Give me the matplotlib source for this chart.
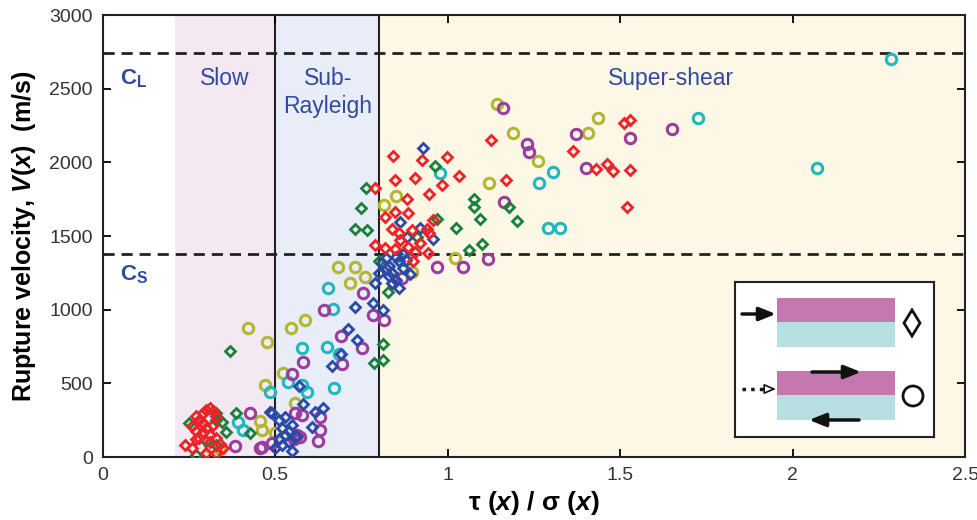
import numpy as np
import matplotlib
matplotlib.use("Agg")
import matplotlib.pyplot as plt
from matplotlib.patches import Rectangle, Polygon, Ellipse

plt.rcParams["font.family"] = ["Liberation Sans", "DejaVu Sans"]
plt.rcParams["mathtext.fontset"] = "custom"
plt.rcParams["mathtext.it"] = "Liberation Sans:italic:bold"
plt.rcParams["mathtext.rm"] = "Liberation Sans:bold"

# shear-to-normal stress ratio vs rupture velocity, per series
red_x = [1.126, 1.168, 1.362, 1.511, 1.528, 1.430, 1.463, 1.480, 1.528, 1.519,
         0.842, 0.925, 0.997, 0.847, 0.905, 0.985, 1.033, 0.947, 0.881,
         0.789, 0.818, 0.847, 0.886, 0.896, 0.838, 0.862, 0.939, 0.958, 0.947,
         0.789, 0.818, 0.847, 0.886, 0.905, 0.944, 0.860, 0.920, 0.900,
         0.24, 0.26, 0.27, 0.28, 0.29, 0.30, 0.31, 0.32, 0.33, 0.28, 0.30, 0.31,
         0.27, 0.29, 0.32, 0.31, 0.33, 0.34, 0.35, 0.33, 0.30, 0.29, 0.26, 0.27]
red_v = [2150, 1880, 2080, 2270, 2290, 1955, 1990, 1945, 1950, 1700,
         2045, 2015, 2035, 1880, 1895, 1850, 1905, 1785, 1755,
         1825, 1630, 1665, 1655, 1540, 1550, 1475, 1550, 1608, 1520,
         1440, 1422, 1410, 1427, 1393, 1386, 1520, 1450, 1330,
         80, 60, 180, 250, 300, 320, 330, 310, 280, 130, 200, 150,
         280, 230, 220, 100, 130, 90, 60, 30, 30, 170, 210, 120]

green_x = [1.077, 1.077, 1.094, 1.024, 1.100, 1.062, 1.179, 1.200, 0.963, 0.968, 0.910,
           0.763, 0.749, 0.731, 0.765, 0.827, 0.813, 0.813, 0.787, 0.800, 0.840,
           0.369, 0.272, 0.328, 0.345, 0.359, 0.386, 0.427, 0.330, 0.300, 0.330, 0.250]
green_v = [1750, 1700, 1615, 1556, 1446, 1405, 1695, 1602, 1975, 1613, 1495,
           1824, 1692, 1545, 1541, 1122, 765, 658, 640, 1330, 1250,
           722, 14, 301, 240, 172, 296, 165, 250, 110, 80, 230]

blue_x = [0.928, 0.862, 0.920, 0.958, 0.881,
          0.82, 0.83, 0.84, 0.85, 0.86, 0.87, 0.83, 0.85, 0.88, 0.84, 0.86, 0.82,
          0.80, 0.81, 0.89, 0.87,
          0.789, 0.784, 0.731, 0.813, 0.712, 0.736, 0.664, 0.690,
          0.490, 0.581, 0.640, 0.615, 0.606, 0.485, 0.570,
          0.51, 0.52, 0.53, 0.54, 0.52, 0.55, 0.53, 0.51, 0.54, 0.50, 0.56, 0.55]
blue_v = [2095, 1597, 1552, 1477, 1495,
          1350, 1300, 1250, 1200, 1330, 1280, 1230, 1360, 1340, 1180, 1150, 1280,
          1250, 1320, 1240, 1380,
          1179, 1043, 1016, 998, 867, 794, 618, 700,
          301, 360, 335, 308, 206, 308, 482,
          250, 200, 150, 100, 80, 220, 270, 120, 180, 60, 140, 40]

cyan_x = [2.284, 2.070, 1.726, 1.304, 1.266, 1.290, 1.326, 0.978, 0.876,
          0.654, 0.668, 0.577, 0.649, 0.685, 0.671, 0.538, 0.577, 0.591, 0.485,
          0.393, 0.408]
cyan_v = [2700, 1960, 2300, 1937, 1862, 1556, 1556, 1930, 1340,
          1149, 1002, 742, 749, 697, 470, 511, 489, 443, 443,
          240, 183]

olive_x = [1.142, 1.190, 1.263, 1.120, 1.408, 1.437, 0.815, 0.850, 1.021, 0.898,
           0.683, 0.731, 0.760, 0.717, 0.586, 0.545, 0.477, 0.422, 0.523, 0.472,
           0.557, 0.499, 0.461, 0.311, 0.340, 0.456]
olive_v = [2396, 2201, 2009, 1858, 2201, 2299, 1710, 1771, 1348, 1258,
           1291, 1287, 1224, 1179, 930, 878, 783, 878, 572, 489,
           364, 165, 183, 70, 52, 246]

purple_x = [1.159, 1.231, 1.237, 1.163, 1.372, 1.528, 1.400, 1.649,
            0.968, 1.045, 1.118, 0.867,
            0.754, 0.784, 0.815, 0.642, 0.691, 0.752, 0.580, 0.693, 0.548,
            0.579, 0.630, 0.630, 0.625, 0.562, 0.555, 0.490, 0.461, 0.383,
            0.427, 0.456, 0.572, 0.557]
purple_v = [2367, 2124, 2072, 1733, 2192, 2167, 1959, 2224,
            1291, 1291, 1342, 1213,
            1111, 964, 930, 998, 821, 742, 647, 631, 563,
            285, 274, 183, 111, 149, 120, 97, 66, 75,
            296, 59, 138, 296]

regions = [(0.21, 0.5, "#f4e9f3"), (0.5, 0.8, "#e9edf8"), (0.8, 2.5, "#fdf7e6")]
c_l = 2740
c_s = 1375
txt_blue = "#2f4a9e"

fig = plt.figure(figsize=(9.77, 5.2), dpi=100)
ax = fig.add_axes([0.105, 0.121, 0.883, 0.850])

for x0, x1, col in regions:
    ax.axvspan(x0, x1, color=col, lw=0, zorder=0)
ax.axvline(0.5, color="#222222", lw=1.5, zorder=1)
ax.axvline(0.8, color="#222222", lw=1.5, zorder=1)
for v in (c_l, c_s):
    ax.axhline(v, color="#222222", lw=2, dashes=(4, 2.5), zorder=1)

dkw = dict(ls="none", marker="D", ms=5.5, mew=2, mfc="none", zorder=3)
ckw = dict(ls="none", marker="o", ms=7.5, mew=2.2, mfc="none", zorder=3)
ax.plot(olive_x, olive_v, mec="#b3b633", **ckw)
ax.plot(cyan_x, cyan_v, mec="#22b6bd", **ckw)
ax.plot(purple_x, purple_v, mec="#9b3d9f", **ckw)
ax.plot(green_x, green_v, mec="#18803c", **dkw)
ax.plot(blue_x, blue_v, mec="#2b49a6", **dkw)
ax.plot(red_x, red_v, mec="#ee2229", **dkw)

ax.text(0.355, 2570, "Slow", color=txt_blue, fontsize=16.5, ha="center", va="center")
ax.text(0.655, 2570, "Sub-", color=txt_blue, fontsize=16.5, ha="center", va="center")
ax.text(0.653, 2382, "Rayleigh", color=txt_blue, fontsize=16.5, ha="center", va="center")
ax.text(1.647, 2570, "Super-shear", color=txt_blue, fontsize=16.5, ha="center", va="center")
ax.text(0.05, 2565, r"C$_\mathregular{L}$", color=txt_blue, fontsize=16,
        fontweight="bold", ha="left", va="center")
ax.text(0.05, 1235, r"C$_\mathregular{S}$", color=txt_blue, fontsize=16,
        fontweight="bold", ha="left", va="center")

ax.set_xlim(0, 2.5)
ax.set_ylim(0, 3000)
ax.set_xticks([0, 0.5, 1, 1.5, 2, 2.5])
ax.set_xticklabels(["0", "0.5", "1", "1.5", "2", "2.5"])
ax.set_yticks(np.arange(0, 3001, 500))
ax.tick_params(direction="in", top=True, right=True, length=6, width=1.3,
               labelsize=14, labelcolor="#333333", pad=7)
for s in ax.spines.values():
    s.set_linewidth(1.5)
    s.set_color("#222222")

ax.set_ylabel(r"Rupture velocity, $V$($x$)  (m/s)", fontsize=18, fontweight="bold", labelpad=8)
ax.set_xlabel(r"τ ($x$) / σ ($x$)", fontsize=19, fontweight="bold", labelpad=4)

# inset sketch of loading configurations (local pixel units)
ins = fig.add_axes([735 / 977, 83 / 520, 199 / 977, 155 / 520])
ins.set_xlim(0, 199)
ins.set_ylim(155, 0)
ins.set_xticks([])
ins.set_yticks([])
for s in ins.spines.values():
    s.set_linewidth(1.5)
    s.set_color("#222222")
mag, cy = "#c577b0", "#b7dfe1"
for top in (16, 89):
    ins.add_patch(Rectangle((42, top), 118, 24, fc=mag, ec="none"))
    ins.add_patch(Rectangle((42, top + 24), 118, 25, fc=cy, ec="none"))
ins.add_patch(Polygon([[177, 28], [185, 41], [177, 54], [169, 41]], closed=True,
                      fc="none", ec="#111111", lw=2))
ins.add_patch(Ellipse((178, 114), 20, 20, fc="none", ec="#111111", lw=2))
akw = dict(arrowstyle="-|>,head_length=1.0,head_width=0.4", color="#111111", lw=2.5,
           shrinkA=0, shrinkB=0)
ins.annotate("", xy=(41, 32), xytext=(7, 32), arrowprops=akw)
ins.annotate("", xy=(126, 90), xytext=(77, 90), arrowprops=akw)
ins.annotate("", xy=(74, 138), xytext=(124, 138), arrowprops=akw)
ins.plot([7, 28], [107, 107], color="#111111", lw=2.5, ls=(0, (1, 1.5)))
ins.annotate("", xy=(41, 107), xytext=(28, 107),
             arrowprops=dict(arrowstyle="-|>,head_length=0.7,head_width=0.3",
                             fc="white", ec="#111111", lw=1.2, shrinkA=0, shrinkB=0))

fig.savefig("out.png", dpi=100)
